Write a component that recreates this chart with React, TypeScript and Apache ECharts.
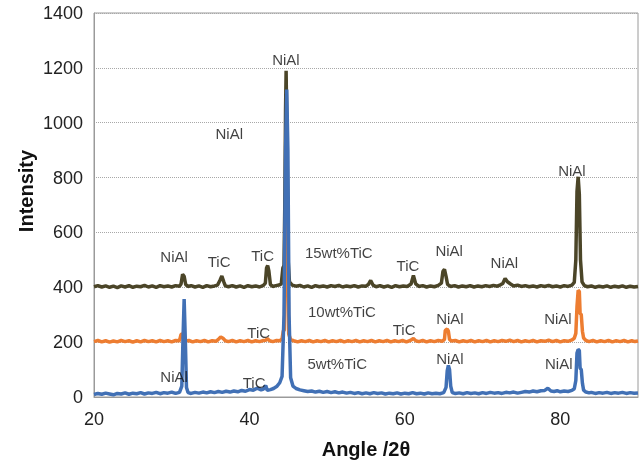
import React, { useEffect, useRef } from "react";
import * as echarts from "echarts";

const xTicks = [20, 40, 60, 80];
const yTicks = [0, 200, 400, 600, 800, 1000, 1200, 1400];

const seriesNames = ["15wt%TiC", "10wt%TiC", "5wt%TiC"];

const s15: [number, number][] = [
  [20, 402], [20.5, 406], [21, 401], [21.5, 405], [22, 400], [22.5, 404], [23, 399], [23.5, 405], [24, 401], [24.5, 406],
  [25, 400], [25.5, 404], [26, 402], [26.5, 407], [27, 401], [27.5, 405], [28, 400], [28.5, 406], [29, 402], [29.5, 405],
  [30, 401], [30.5, 406], [31, 404], [31.2, 412], [31.4, 447], [31.6, 440], [31.8, 410], [32.1, 403], [32.5, 406], [33, 401],
  [33.5, 405], [34, 400], [34.5, 406], [35, 402], [35.5, 405], [35.9, 408], [36.2, 425], [36.45, 441], [36.7, 420], [36.9, 405],
  [37.3, 402], [37.8, 406], [38.3, 401], [38.8, 405], [39.3, 400], [39.8, 406], [40.3, 402], [40.8, 405], [41.3, 401], [41.8, 407],
  [42.05, 415], [42.2, 470], [42.35, 479], [42.5, 460], [42.7, 410], [43, 403], [43.4, 406], [43.8, 408], [44.1, 412], [44.3, 470],
  [44.45, 479], [44.55, 700], [44.65, 1050], [44.72, 1189], [44.85, 900], [44.98, 500], [45.15, 420], [45.5, 408], [46, 404], [46.5, 407],
  [47, 401], [47.5, 405], [48, 400], [48.5, 406], [49, 402], [49.5, 405], [50, 401], [50.5, 406], [51, 403], [51.5, 407],
  [52, 401], [52.5, 405], [53, 402], [53.5, 406], [54, 401], [54.5, 405], [55, 404], [55.3, 410], [55.6, 425], [55.9, 408],
  [56.3, 402], [56.8, 406], [57.3, 401], [57.8, 405], [58.3, 400], [58.8, 406], [59.3, 402], [59.8, 405], [60.3, 403], [60.8, 412],
  [61.1, 443], [61.4, 412], [61.8, 403], [62.3, 406], [62.8, 401], [63.3, 405], [63.8, 402], [64.3, 407], [64.7, 415], [64.9, 458],
  [65.1, 465], [65.3, 440], [65.5, 410], [65.9, 403], [66.4, 406], [66.9, 401], [67.4, 405], [67.9, 402], [68.4, 406], [68.9, 401],
  [69.4, 405], [69.9, 402], [70.4, 406], [70.9, 403], [71.4, 407], [71.9, 404], [72.3, 409], [72.6, 414], [72.9, 432], [73.2, 420],
  [73.6, 412], [74, 405], [74.5, 408], [75, 403], [75.5, 406], [76, 402], [76.5, 405], [77, 401], [77.5, 406], [78, 403],
  [78.5, 407], [79, 402], [79.5, 405], [80, 401], [80.5, 406], [81, 403], [81.5, 408], [81.8, 418], [82.0, 500], [82.15, 750],
  [82.3, 803], [82.45, 740], [82.6, 500], [82.8, 420], [83.1, 406], [83.5, 402], [84, 405], [84.5, 400], [85, 404], [85.5, 401],
  [86, 405], [86.5, 400], [87, 404], [87.5, 401], [88, 405], [88.5, 400], [89, 404], [89.5, 401], [90, 403]
];

const s10: [number, number][] = [
  [20, 202], [20.5, 206], [21, 201], [21.5, 205], [22, 200], [22.5, 204], [23, 201], [23.5, 206], [24, 202], [24.5, 205],
  [25, 200], [25.5, 205], [26, 201], [26.5, 206], [27, 202], [27.5, 205], [28, 201], [28.5, 206], [29, 202], [29.5, 205],
  [30, 201], [30.5, 206], [31, 205], [31.2, 228], [31.4, 230], [31.55, 212], [31.8, 204], [32.2, 206], [32.7, 201], [33.2, 205],
  [33.7, 202], [34.2, 206], [34.7, 201], [35.2, 205], [35.7, 203], [36, 210], [36.3, 219], [36.6, 214], [36.9, 205], [37.3, 202],
  [37.8, 206], [38.3, 201], [38.8, 205], [39.3, 202], [39.8, 206], [40.3, 201], [40.8, 205], [41.3, 202], [41.8, 206], [42.1, 207],
  [42.3, 213], [42.6, 205], [43, 202], [43.5, 206], [43.9, 205], [44.2, 212], [44.35, 240], [44.5, 245], [44.65, 600], [44.8, 1000],
  [44.92, 600], [45.05, 230], [45.3, 209], [45.7, 205], [46.2, 201], [46.7, 205], [47.2, 202], [47.7, 206], [48.2, 201], [48.7, 205],
  [49.2, 202], [49.7, 206], [50.2, 201], [50.7, 205], [51.2, 202], [51.7, 206], [52.2, 201], [52.7, 205], [53.2, 202], [53.7, 206],
  [54.2, 201], [54.7, 205], [55.2, 202], [55.7, 206], [56.2, 201], [56.7, 205], [57.2, 202], [57.7, 206], [58.2, 201], [58.7, 205],
  [59.2, 202], [59.7, 206], [60.2, 201], [60.7, 206], [61.1, 213], [61.4, 205], [61.8, 202], [62.3, 206], [62.8, 201], [63.3, 205],
  [63.8, 202], [64.3, 206], [64.8, 203], [65.1, 210], [65.2, 243], [65.45, 248], [65.6, 240], [65.75, 210], [66, 204], [66.5, 206],
  [67, 201], [67.5, 205], [68, 202], [68.5, 206], [69, 201], [69.5, 205], [70, 202], [70.5, 206], [71, 201], [71.5, 205],
  [72, 202], [72.5, 206], [73, 203], [73.5, 207], [74, 202], [74.5, 206], [75, 201], [75.5, 205], [76, 202], [76.5, 206],
  [77, 201], [77.5, 205], [78, 203], [78.5, 207], [79, 202], [79.5, 206], [80, 201], [80.5, 205], [81, 203], [81.5, 208],
  [81.8, 214], [82.0, 232], [82.15, 330], [82.3, 389], [82.45, 385], [82.55, 305], [82.7, 300], [82.85, 240], [83, 215], [83.3, 206],
  [83.7, 202], [84.2, 206], [84.7, 201], [85.2, 205], [85.7, 202], [86.2, 206], [86.7, 201], [87.2, 205], [87.7, 202], [88.2, 206],
  [88.7, 201], [89.2, 205], [89.6, 202], [90, 204]
];

const s5: [number, number][] = [
  [20, 9], [20.5, 13], [21, 10], [21.5, 14], [22, 11], [22.5, 8], [23, 13], [23.5, 11], [24, 15], [24.5, 10],
  [25, 14], [25.5, 12], [26, 16], [26.5, 11], [27, 15], [27.5, 13], [28, 17], [28.5, 12], [29, 16], [29.5, 14],
  [30, 18], [30.5, 13], [31, 17], [31.3, 40], [31.45, 210], [31.6, 357], [31.75, 210], [31.9, 35], [32.1, 16], [32.5, 13],
  [33, 17], [33.5, 14], [34, 18], [34.5, 15], [35, 19], [35.5, 16], [36, 20], [36.5, 17], [37, 21], [37.5, 18],
  [38, 22], [38.5, 19], [39, 24], [39.5, 21], [40, 27], [40.5, 25], [41, 32], [41.5, 26], [41.8, 29], [42.1, 42],
  [42.3, 24], [42.7, 27], [43.1, 31], [43.5, 38], [43.9, 52], [44.2, 75], [44.45, 300], [44.65, 900], [44.8, 1121], [44.95, 900],
  [45.1, 300], [45.3, 70], [45.6, 40], [46, 31], [46.5, 26], [47, 23], [47.5, 20], [48, 22], [48.5, 18], [49, 21],
  [49.5, 17], [50, 20], [50.5, 16], [51, 19], [51.5, 15], [52, 18], [52.5, 14], [53, 17], [53.5, 13], [54, 16],
  [54.5, 12], [55, 15], [55.5, 12], [56, 16], [56.5, 13], [57, 15], [57.5, 11], [58, 14], [58.5, 12], [59, 15],
  [59.5, 11], [60, 14], [60.5, 12], [61, 16], [61.5, 12], [62, 14], [62.5, 11], [63, 15], [63.5, 12], [64, 14],
  [64.5, 12], [65, 16], [65.3, 35], [65.45, 95], [65.6, 115], [65.75, 100], [65.9, 40], [66.1, 16], [66.5, 13], [67, 15],
  [67.5, 12], [68, 16], [68.5, 13], [69, 15], [69.5, 12], [70, 16], [70.5, 13], [71, 17], [71.5, 14], [72, 16],
  [72.5, 13], [73, 17], [73.5, 15], [74, 18], [74.5, 14], [75, 17], [75.5, 20], [76, 18], [76.5, 22], [77, 19],
  [77.5, 23], [78, 24], [78.4, 32], [78.8, 22], [79.2, 20], [79.6, 23], [80, 19], [80.5, 22], [81, 20], [81.5, 24],
  [81.8, 30], [82.0, 60], [82.15, 160], [82.3, 173], [82.45, 170], [82.55, 105], [82.7, 100], [82.85, 50], [83.0, 25], [83.3, 18],
  [83.7, 15], [84, 17], [84.5, 13], [85, 16], [85.5, 14], [86, 17], [86.5, 13], [87, 16], [87.5, 14], [88, 17],
  [88.5, 13], [89, 16], [89.5, 14], [90, 15]
];

const annText = [
  "NiAl", "NiAl", "NiAl", "NiAl", "TiC", "TiC", "15wt%TiC", "TiC", "NiAl", "NiAl",
  "10wt%TiC", "TiC", "NiAl", "NiAl", "TiC", "5wt%TiC", "NiAl", "TiC", "NiAl", "NiAl"
];
const annX = [44.7, 37.4, 81.5, 30.3, 36.1, 41.7, 51.5, 60.4, 65.7, 72.8, 51.9, 59.9, 65.8, 79.7, 41.2, 51.3, 30.3, 40.6, 65.8, 79.8];
const annY = [1229, 959, 825, 512, 494, 515, 526, 479, 533, 490, 310, 245, 288, 288, 234, 122, 76, 54, 140, 122];

const colors = ["#4b4528", "#ed7d31", "#4170b5"];

export default function App() {
  const ref = useRef<HTMLDivElement>(null);
  useEffect(() => {
    if (!ref.current) return;
    const chart = echarts.init(ref.current, null, { renderer: "svg" });
    const lineData = [s15, s10, s5];
    chart.setOption({
      animation: false,
      grid: {
        left: 94, right: 5, top: 13, bottom: 63,
        show: true, borderColor: "#9a9a9a", borderWidth: 1, backgroundColor: "transparent"
      },
      xAxis: {
        type: "value", min: xTicks[0], max: 90, interval: 20,
        name: "Angle /2θ", nameLocation: "middle", nameGap: 42, nameMoveOverlap: false,
        nameTextStyle: { fontFamily: "Liberation Sans", fontSize: 20, fontWeight: "bold", color: "#111" },
        axisLine: { show: true, lineStyle: { color: "#9a9a9a" } },
        axisTick: { show: false },
        splitLine: { show: false },
        axisLabel: { fontFamily: "Liberation Sans", fontSize: 18, color: "#222", margin: 13, showMaxLabel: false }
      },
      yAxis: {
        type: "value", min: yTicks[0], max: yTicks[yTicks.length - 1], interval: 200,
        name: "Intensity", nameLocation: "middle", nameGap: 58, nameMoveOverlap: false,
        nameTextStyle: { fontFamily: "Liberation Sans", fontSize: 20, fontWeight: "bold", color: "#111", padding: [0, 0, 0, 28] },
        axisLine: { show: true, lineStyle: { color: "#9a9a9a" } },
        axisTick: { show: false },
        splitLine: { show: true, lineStyle: { color: "#a8a8a8", type: "dotted", width: 1 } },
        axisLabel: {
          fontFamily: "Liberation Sans", fontSize: 18, color: "#222", margin: 11,
          formatter: (v: number) => String(v)
        }
      },
      series: [
        ...lineData.map((d, i) => ({
          type: "line", name: seriesNames[i], data: d, showSymbol: false, symbol: "none",
          lineStyle: { color: colors[i], width: 3.5 }, itemStyle: { color: colors[i] }, z: 2 + i
        })),
        {
          type: "scatter", symbolSize: 1, itemStyle: { color: "rgba(0,0,0,0)" }, z: 10, silent: true,
          data: annText.map((t, i) => ({ name: t, value: [annX[i], annY[i]] })),
          label: {
            show: true, position: "inside", formatter: "{b}",
            fontFamily: "Liberation Sans", fontSize: 15, color: "#111"
          }
        }
      ]
    });
    return () => chart.dispose();
  }, []);
  return <div ref={ref} style={{ position: "fixed", left: 0, top: 0, width: 643, height: 464 }} />;
}
